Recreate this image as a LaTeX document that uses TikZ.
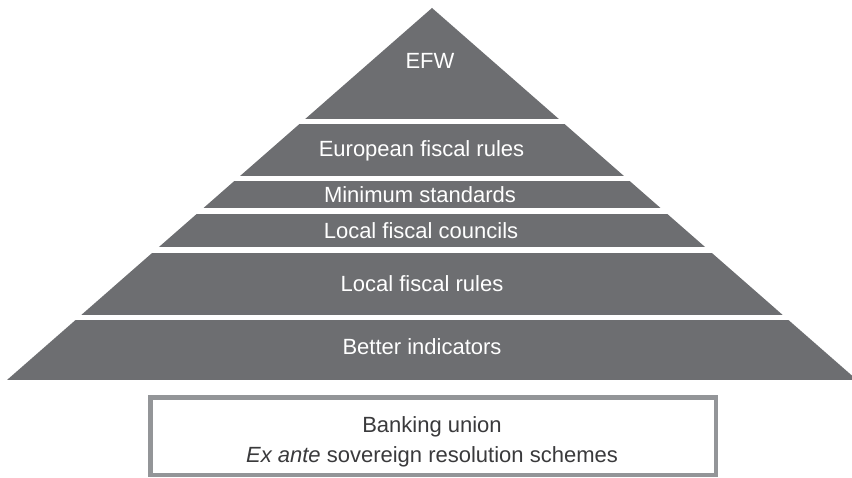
\documentclass[tikz,border=0pt]{standalone}
\usepackage{fontspec}
\setmainfont{Liberation Sans}
\definecolor{pyrgray}{HTML}{6D6E71}
\definecolor{boxgray}{HTML}{939598}
\definecolor{txtgray}{HTML}{3A3A3C}
\begin{document}
\begin{tikzpicture}[x=1pt,y=-1pt,
  lvl/.style={anchor=base,text=white,font=\fontsize{22}{24}\selectfont,inner sep=0pt},
  boxtxt/.style={anchor=base,text=txtgray,font=\fontsize{22}{24}\selectfont,inner sep=0pt},
  gap/.style={fill=white,draw=none}]
\clip (0,0) rectangle (852,478);
\fill[white] (0,0) rectangle (852,478);
% pyramid
\coordinate (apex) at (432,8);
\coordinate (bl) at (7,380);
\coordinate (br) at (857,380);
\fill[pyrgray] (apex) -- (br) -- (bl) -- cycle;
% separating gaps
\fill[gap] (0,119) rectangle (852,124);
\fill[gap] (0,176) rectangle (852,181);
\fill[gap] (0,208) rectangle (852,214);
\fill[gap] (0,247) rectangle (852,253);
\fill[gap] (0,315) rectangle (852,320);
% labels
\node[lvl] (efw) at (430,69) {EFW};
\node[lvl] (efr) at (421.5,157) {European fiscal rules};
\node[lvl] (ms) at (420,202.5) {Minimum standards};
\node[lvl] (lfc) at (421,238.5) {Local fiscal councils};
\node[lvl] (lfr) at (422,291.5) {Local fiscal rules};
\node[lvl] (bi) at (422,355) {Better indicators};
% bottom box
\draw[boxgray,line width=4.5pt] (150.5,397.5) rectangle (716,475);
\node[boxtxt] (bu) at (432,432) {Banking union};
\node[boxtxt] (ea) at (432,462) {\textit{Ex ante} sovereign resolution schemes};
\end{tikzpicture}
\end{document}
